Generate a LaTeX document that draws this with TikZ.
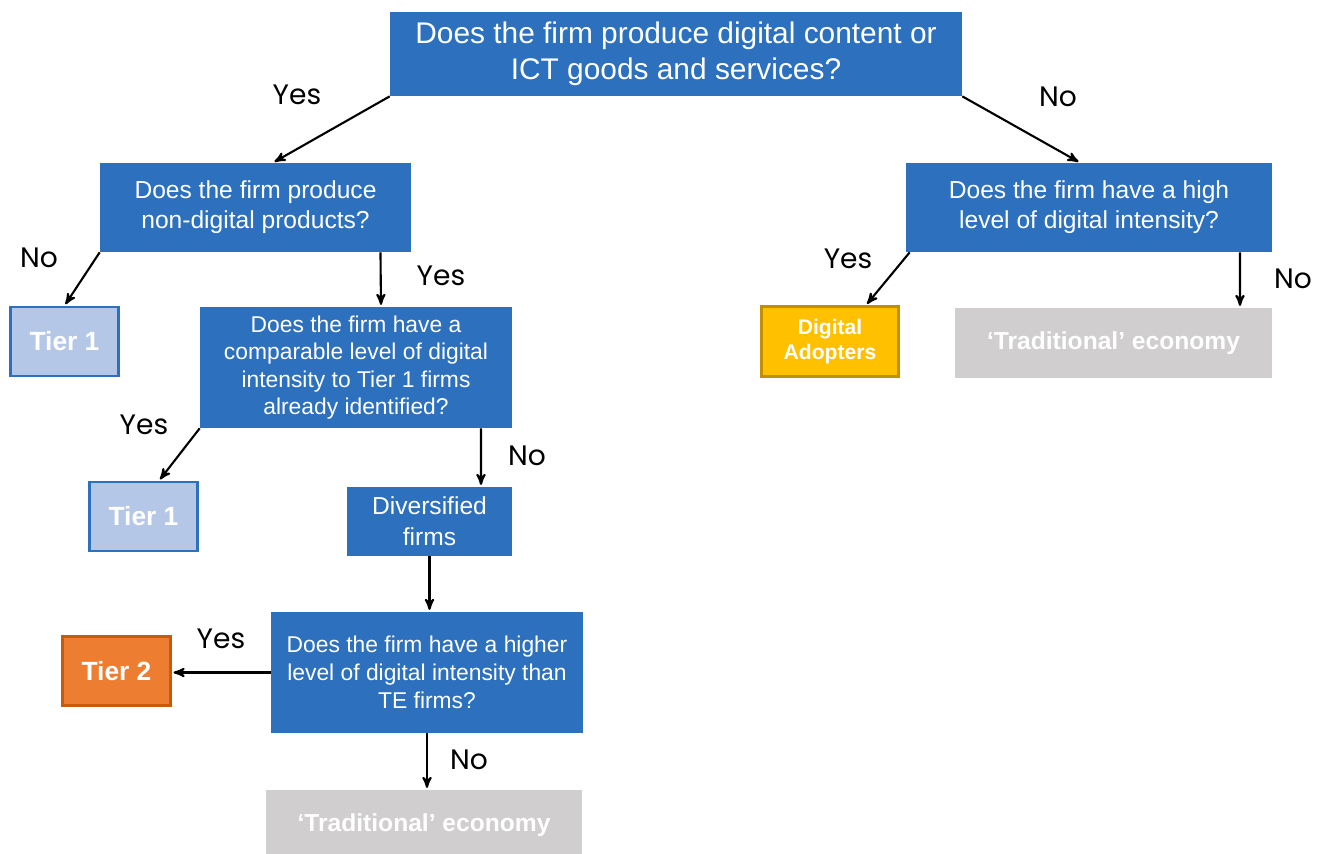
\documentclass[tikz,border=0pt]{standalone}
\usepackage{fontspec}
\setmainfont{Liberation Sans}
\newfontfamily\yesnofont{Poppins}
\usetikzlibrary{arrows,positioning}

\definecolor{qblue}{RGB}{44,112,190}
\definecolor{tierblue}{RGB}{180,199,231}
\definecolor{adoptfill}{RGB}{255,192,0}
\definecolor{adoptline}{RGB}{191,144,0}
\definecolor{tiertwo}{RGB}{237,125,49}
\definecolor{tiertwoline}{RGB}{197,90,17}
\definecolor{tradgrey}{RGB}{208,206,206}

\tikzset{
  question/.style={fill=qblue,text=white,align=center,inner sep=0pt},
  tierone/.style={fill=tierblue,draw=qblue,line width=1.5pt,text=white,inner sep=0pt,
    minimum width=2.16cm,minimum height=1.38cm,font=\fontsize{15}{18}\selectfont\bfseries},
  trad/.style={fill=tradgrey,text=white,inner sep=0pt,minimum width=6.34cm,minimum height=1.40cm,
    font=\fontsize{14}{17}\selectfont\bfseries},
  yesno/.style={font=\yesnofont\fontsize{16}{19}\selectfont,inner sep=0pt},
  every edge/.style={draw,line width=1.2pt}
}

\begin{document}
\begin{tikzpicture}[x=0.02cm,y=-0.02cm,>=stealth',shorten >=1pt]
\useasboundingbox (0,0) rectangle (1324,853);

\node[question,minimum width=11.44cm,minimum height=1.68cm,font=\fontsize{17}{20.4}\selectfont]
  (q1) at (676,54) {Does the firm produce digital content or\\ICT goods and services?};

\node[question,minimum width=6.22cm,minimum height=1.78cm,font=\fontsize{14}{17}\selectfont]
  (q2) at (255.5,207.5) {Does the firm produce\\non-digital products?};
\node[question,minimum width=7.32cm,minimum height=1.78cm,font=\fontsize{14}{17}\selectfont]
  (q3) at (1089,207.5) {Does the firm have a high\\level of digital intensity?};

\node[tierone] (t1a) at (64.5,341.5) {Tier 1};
\node[question,minimum width=6.24cm,minimum height=2.42cm,font=\fontsize{13}{15.6}\selectfont]
  (q4) at (356,367.5) {Does the firm have a\\comparable level of digital\\intensity to Tier 1 firms\\already identified?};

\node[fill=adoptfill,draw=adoptline,line width=1.5pt,text=white,inner sep=0pt,align=center,
  minimum width=2.74cm,minimum height=1.40cm,font=\fontsize{12}{14.7}\selectfont\bfseries]
  (da) at (830,341.5) {Digital\\Adopters};
\node[trad] (tr1) at (1113.5,343) {`Traditional' economy};

\node[tierone] (t1b) at (143.5,516.5) {Tier 1};
\node[question,minimum width=3.30cm,minimum height=1.38cm,font=\fontsize{14}{17.6}\selectfont]
  (div) at (429.5,521.5) {Diversified\\firms};

\node[question,minimum width=6.24cm,minimum height=2.42cm,font=\fontsize{13}{15.8}\selectfont]
  (q5) at (427,672.5) {Does the firm have a higher\\level of digital intensity than\\TE firms?};
\node[fill=tiertwo,draw=tiertwoline,line width=1.5pt,text=white,inner sep=0pt,
  minimum width=2.16cm,minimum height=1.38cm,font=\fontsize{15}{18}\selectfont\bfseries]
  (t2) at (116.5,671) {Tier 2};
\node[trad] (tr2) at (424,825) {`Traditional' economy};

\path[->] (q1.south west) edge ([xshift=0.35cm]q2.north)
          (q1.south east) edge ([xshift=-0.18cm]q3.north)
          (q2.south west) edge (t1a.north)
          ([xshift=2.5cm]q2.south) edge ([xshift=0.5cm]q4.north)
          ([xshift=0.08cm]q3.south west) edge ([xshift=0.72cm]da.north)
          ([xshift=3.02cm]q3.south) edge ([xshift=2.53cm]tr1.north)
          (q4.south west) edge ([xshift=0.31cm]t1b.north)
          ([xshift=2.5cm]q4.south) edge ([xshift=1.03cm]div.north)
          (div.south) edge (div.south |- q5.north)
          (q5.west) edge (t2.east |- q5.west)
          (q5.south) edge (q5.south |- tr2.north);

\node[yesno] (l1) at (297,95) {Yes};
\node[yesno] (l2) at (1058,97) {No};
\node[yesno] (l3) at (39,258) {No};
\node[yesno] (l4) at (441,276) {Yes};
\node[yesno] (l5) at (848,259) {Yes};
\node[yesno] (l6) at (1293,279) {No};
\node[yesno] (l7) at (144,425) {Yes};
\node[yesno] (l8) at (527,456) {No};
\node[yesno] (l9) at (221,639) {Yes};
\node[yesno] (l10) at (469,760) {No};
\end{tikzpicture}
\end{document}
